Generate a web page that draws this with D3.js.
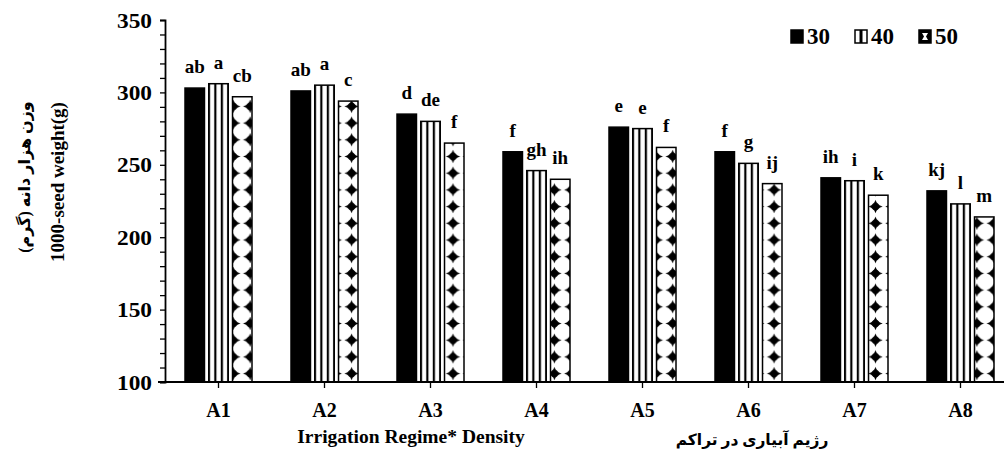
<!DOCTYPE html>
<html>
<head>
<meta charset="utf-8">
<script src="https://cdn.jsdelivr.net/npm/d3@7"></script>
<style>
  html, body { margin: 0; padding: 0; background: #fff; }
  svg text { font-family: 'Liberation Serif', 'Times New Roman', Tinos, 'DejaVu Serif', serif; font-weight: 700; fill: #000; }
  svg text.fa { font-family: 'Liberation Serif', 'DejaVu Sans', serif; }
</style>
</head>
<body>
<svg id="chart" width="1004" height="471"></svg>
<script>
const categories = ["A1", "A2", "A3", "A4", "A5", "A6", "A7", "A8"];
const seriesNames = ["30", "40", "50"];
const values30 = [303, 301, 285, 259, 276, 259, 241, 232];
const values40 = [306, 305, 280, 246, 275, 251, 239, 223];
const values50 = [297, 294, 265, 240, 262, 237, 229, 214];
const letters30 = ["ab", "ab", "d", "f", "e", "f", "ih", "kj"];
const letters40 = ["a", "a", "de", "gh", "e", "g", "i", "l"];
const letters50 = ["cb", "c", "f", "ih", "f", "ij", "k", "m"];
const yMajorTicks = [100, 150, 200, 250, 300, 350];
const yMin = 100, yMax = 350, yMinorStep = 10;
const xTitle = "Irrigation Regime* Density";
const xTitleFa = "رژیم آبیاری در تراکم";
const yTitle = "1000-seed weight(g)";
const yTitleFa = "وزن هزار دانه (گرم)";

const W = 1004, H = 471;
const svg = d3.select("#chart");

const valueSets = [values30, values40, values50];
const letterSets = [letters30, letters40, letters50];
const rows = [];
categories.forEach((c, i) => {
  seriesNames.forEach((s, j) => {
    rows.push({cat: c, ser: s, j: j, v: valueSets[j][i], lab: letterSets[j][i]});
  });
});

const x0 = d3.scaleBand().domain(categories).range([165.5, 1013.5]).padding(0);
const x1 = d3.scaleBand().domain(seriesNames).range([-33.5, 33.5]).paddingInner(0.18).paddingOuter(0);
const y = d3.scaleLinear().domain([yMin, yMax]).range([382, 20]);

// patterns
const defs = svg.append("defs");
const pStripe = defs.append("pattern").attr("id", "pStripe")
  .attr("patternUnits", "objectBoundingBox").attr("width", 1/3).attr("height", 1);
pStripe.append("rect").attr("x", 0).attr("y", 0).attr("width", 50).attr("height", 2000).attr("fill", "#fff");
pStripe.append("rect").attr("x", -1).attr("y", 0).attr("width", 2.2).attr("height", 2000).attr("fill", "#000");
pStripe.append("rect").attr("x", 5.5).attr("y", 0).attr("width", 3).attr("height", 2000).attr("fill", "#000");

const tw = 16.9, th = 16.7;
const pDia = defs.append("pattern").attr("id", "pDia")
  .attr("patternUnits", "userSpaceOnUse").attr("width", tw).attr("height", th)
  .attr("x", 453 - tw / 2).attr("y", 256.7 - th / 2);
pDia.append("rect").attr("width", tw).attr("height", th).attr("fill", "#fff");
const cx = tw / 2, cy = th / 2, hw = 7.2, hh = 6.6;
const diaPath = `M${cx},${cy - hh} Q${cx + 1.5},${cy - 1.5} ${cx + hw},${cy} Q${cx + 1.5},${cy + 1.5} ${cx},${cy + hh} Q${cx - 1.5},${cy + 1.5} ${cx - hw},${cy} Q${cx - 1.5},${cy - 1.5} ${cx},${cy - hh} Z`;
pDia.append("path").attr("d", diaPath).attr("fill", "#000");
pDia.append("circle").attr("cx", cx).attr("cy", cy).attr("r", 3.6).attr("fill", "#000");

const fills = {"30": "#000", "40": "url(#pStripe)", "50": "url(#pDia)"};

// bars
const g = svg.append("g");
g.selectAll("rect.bar").data(rows).join("rect")
  .attr("class", "bar")
  .attr("x", d => x0(d.cat) + x0.bandwidth() / 2 + x1(d.ser))
  .attr("y", d => y(d.v))
  .attr("width", x1.bandwidth())
  .attr("height", d => y(yMin) - y(d.v))
  .attr("fill", d => fills[d.ser])
  .attr("stroke", "#000").attr("stroke-width", 1.5);

// significance letters
g.selectAll("text.lab").data(rows).join("text")
  .attr("class", "lab")
  .attr("x", d => x0(d.cat) + x0.bandwidth() / 2 + x1(d.ser) + x1.bandwidth() / 2)
  .attr("y", d => y(d.v) - 15)
  .attr("text-anchor", "middle")
  .attr("font-size", 19)
  .text(d => d.lab);

// y axis
const yAxis = d3.axisLeft(y)
  .tickValues(d3.range(yMin, yMax + 1, yMinorStep))
  .tickSize(5).tickPadding(8)
  .tickFormat(d => yMajorTicks.includes(d) ? d : "");
const gy = svg.append("g").attr("transform", "translate(165,0)").call(yAxis);
gy.attr("font-family", null);
gy.select(".domain").attr("stroke", "#000").attr("stroke-width", 1.8);
gy.selectAll(".tick line").attr("stroke", "#000").attr("stroke-width", 1.3);
gy.selectAll(".tick text").attr("font-size", 20)
  .attr("dy", "0.35em").attr("textLength", d => yMajorTicks.includes(d) ? 35 : null)
  .attr("lengthAdjust", "spacingAndGlyphs");

// x axis
const xAxis = d3.axisBottom(x0).tickSize(6).tickSizeOuter(0);
const gx = svg.append("g").attr("transform", "translate(0,382)").call(xAxis);
gx.attr("font-family", null);
gx.select(".domain").remove();
gx.selectAll(".tick line").attr("stroke", "#000").attr("stroke-width", 1.3);
gx.selectAll(".tick text").attr("font-size", 20).attr("y", 21);
gx.append("line").attr("x1", 158).attr("x2", W).attr("y1", 0).attr("y2", 0)
  .attr("stroke", "#000").attr("stroke-width", 2);

// axis titles
svg.append("text").attr("x", 411).attr("y", 443).attr("text-anchor", "middle")
  .attr("font-size", 19.5).text(xTitle);
svg.append("text").attr("class", "fa").attr("x", 752).attr("y", 445).attr("text-anchor", "middle")
  .attr("font-size", 15.5).attr("direction", "rtl").style("unicode-bidi", "plaintext").text(xTitleFa);
svg.append("text").attr("transform", "translate(64,182) rotate(-90)").attr("text-anchor", "middle")
  .attr("font-size", 19).text(yTitle);
svg.append("text").attr("class", "fa").attr("transform", "translate(30,177) rotate(-90)").attr("text-anchor", "middle")
  .attr("font-size", 16).style("unicode-bidi", "plaintext").text(yTitleFa);

// legend
const legX = [791, 855, 919];
const leg = svg.append("g");
const li = leg.selectAll("g").data(seriesNames).join("g")
  .attr("transform", (d, i) => `translate(${legX[i]},30)`);
li.append("rect").attr("width", 12).attr("height", 13)
  .attr("fill", d => d === "40" ? "#fff" : "#000").attr("stroke", "#000").attr("stroke-width", 1.5);
li.filter(d => d === "40").append("rect").attr("x", 4.5).attr("y", 0).attr("width", 3).attr("height", 13).attr("fill", "#000");
li.filter(d => d === "50").append("path")
  .attr("d", "M3,3 L9,3 L7,6.5 L9,10 L3,10 L5,6.5 Z").attr("fill", "#fff");
li.append("text").attr("x", 16).attr("y", 14).attr("font-size", 23).text(d => d);
</script>
</body>
</html>
